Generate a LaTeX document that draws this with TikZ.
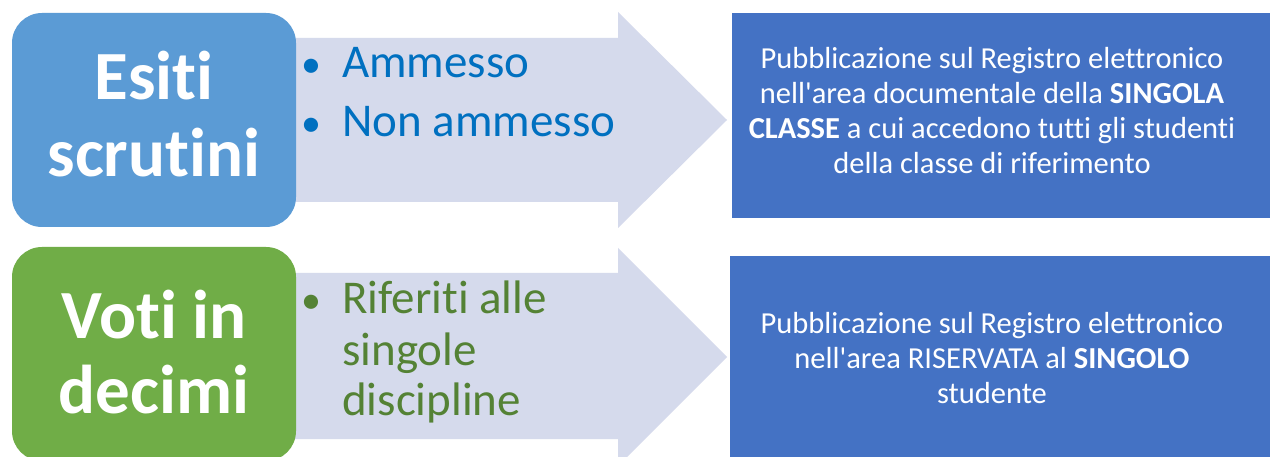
\documentclass[tikz,border=0pt]{standalone}
\usepackage{fontspec}
\setmainfont{Carlito}[Ligatures={TeXOff,CommonOff}]
\definecolor{boxblue}{HTML}{5B9BD5}
\definecolor{boxgreen}{HTML}{70AD47}
\definecolor{arrowfill}{HTML}{D5DAEC}
\definecolor{pubblue}{HTML}{4472C4}
\definecolor{txtblue}{HTML}{0070C0}
\definecolor{txtgreen}{HTML}{548235}
\begin{document}
\begin{tikzpicture}[x=1pt,y=-1pt,
  catbox/.style={rounded corners=30pt, minimum width=284pt, minimum height=214pt, inner sep=0pt, draw=none},
  cattext/.style={anchor=base, text=white, font=\fontsize{69}{77}\selectfont\bfseries, inner sep=0pt},
  pubbox/.style={fill=pubblue, draw=none},
  pubtext/.style={align=center, text=white, font=\fontsize{30.5}{35}\selectfont, inner sep=0pt},
  bulletmark/.style={anchor=base west, inner sep=0pt, font=\fontsize{40}{50}\selectfont},
  itemtext/.style={anchor=base west, inner sep=0pt, font=\fontsize{47}{52}\selectfont},
  arrowshape/.style={fill=arrowfill, draw=none}]
\clip (0,0) rectangle (1270,457);
\fill[white] (0,0) rectangle (1270,457);
% arrows
\path[arrowshape] (150,38) -- (618,38) -- (618,12) -- (727,120) -- (618,228) -- (618,202) -- (150,202) -- cycle;
\path[arrowshape] (150,273) -- (618,273) -- (618,248) -- (727,357) -- (618,466) -- (618,439) -- (150,439) -- cycle;
% category boxes
\node[catbox, fill=boxblue] (esiti) at (154,120) {};
\node[cattext] (esitiA) at (154,100) {Esiti};
\node[cattext] (esitiB) at (154,177) {scrutini};
\node[catbox, fill=boxgreen] (voti) at (154,354) {};
\node[cattext] (votiA) at (154,338) {Voti in};
\node[cattext] (votiB) at (154,413) {decimi};
% bullet items
\node[bulletmark, text=txtblue] (b1) at (301,78) {•};
\node[itemtext, text=txtblue] (i1) at (342,78) {Ammesso};
\node[bulletmark, text=txtblue] (b2) at (301,137) {•};
\node[itemtext, text=txtblue] (i2) at (342,137) {Non ammesso};
\node[bulletmark, text=txtgreen] (b3) at (301,313) {•};
\node[itemtext, text=txtgreen] (i3) at (342,313) {Riferiti alle};
\node[itemtext, text=txtgreen] (i4) at (342,365) {singole};
\node[itemtext, text=txtgreen] (i5) at (342,415) {discipline};
% publication boxes
\path[pubbox] (732,13) rectangle (1290,218);
\node[pubtext] (pub1) at (992,111) {Pubblicazione sul Registro elettronico\\nell'area documentale della \textbf{SINGOLA}\\\textbf{CLASSE} a cui accedono tutti gli studenti\\della classe di riferimento};
\path[pubbox] (730,256) rectangle (1290,480);
\node[pubtext] (pub2) at (992,358) {Pubblicazione sul Registro elettronico\\nell'area RISERVATA al \textbf{SINGOLO}\\studente};
\end{tikzpicture}
\end{document}
